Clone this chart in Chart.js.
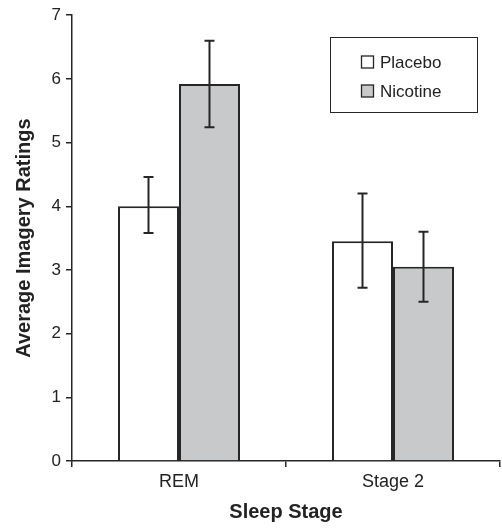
<!DOCTYPE html>
<html>
<head>
<meta charset="utf-8">
<script src="https://cdn.jsdelivr.net/npm/chart.js@4.4.0/dist/chart.umd.min.js"></script>
<style>
  body { margin: 0; background: #fff; }
  #chart { display: block; }
</style>
</head>
<body>
<canvas id="chart" width="502" height="528"></canvas>
<script>
// chart data
const stages = ['REM', 'Stage 2'];
const placebo = [4.0, 3.45];
const nicotine = [5.92, 3.05];
const placeboLow = [3.58, 2.72];
const placeboHigh = [4.46, 4.2];
const nicotineLow = [5.24, 2.5];
const nicotineHigh = [6.6, 3.6];
const yTicks = [0, 1, 2, 3, 4, 5, 6, 7];

const ink = '#262626';
const font = 'Liberation Sans, Arial, sans-serif';

// draws error bars on top of the bars
const errorBars = {
    id: 'errorBars',
    afterDatasetsDraw(chart) {
        const ctx = chart.ctx;
        const y = chart.scales.y;
        chart.data.datasets.forEach((ds, i) => {
            const meta = chart.getDatasetMeta(i);
            meta.data.forEach((bar, j) => {
                const top = y.getPixelForValue(ds.errHigh[j]);
                const bottom = y.getPixelForValue(ds.errLow[j]);
                ctx.save();
                ctx.strokeStyle = ink;
                ctx.lineWidth = 2;
                ctx.beginPath();
                ctx.moveTo(bar.x, top);
                ctx.lineTo(bar.x, bottom);
                ctx.moveTo(bar.x - 5, top);
                ctx.lineTo(bar.x + 5, top);
                ctx.moveTo(bar.x - 5, bottom);
                ctx.lineTo(bar.x + 5, bottom);
                ctx.stroke();
                ctx.restore();
            });
        });
    }
};

// boxed legend in the upper right corner
const boxLegend = {
    id: 'boxLegend',
    afterDraw(chart) {
        const ctx = chart.ctx;
        ctx.save();
        ctx.strokeStyle = ink;
        ctx.lineWidth = 1;
        ctx.strokeRect(330.5, 37.5, 147, 75);
        ctx.font = '17px ' + font;
        ctx.textBaseline = 'middle';
        chart.data.datasets.forEach((ds, i) => {
            const cy = 62 + i * 29;
            ctx.fillStyle = ds.backgroundColor;
            ctx.fillRect(361.5, cy - 6, 12, 12);
            ctx.strokeStyle = ink;
            ctx.lineWidth = 1.3;
            ctx.strokeRect(361.5, cy - 6, 12, 12);
            ctx.fillStyle = '#222';
            ctx.fillText(ds.label, 380, cy + 1);
        });
        ctx.restore();
    }
};

const ctx = document.getElementById('chart').getContext('2d');
new Chart(ctx, {
    type: 'bar',
    data: {
        labels: stages,
        datasets: [{
            label: 'Placebo',
            data: placebo,
            errLow: placeboLow,
            errHigh: placeboHigh,
            backgroundColor: '#ffffff',
            borderColor: ink,
            borderWidth: 2,
            categoryPercentage: 0.57,
            barPercentage: 1.0
        }, {
            label: 'Nicotine',
            data: nicotine,
            errLow: nicotineLow,
            errHigh: nicotineHigh,
            backgroundColor: '#c8c9cb',
            borderColor: ink,
            borderWidth: 2,
            categoryPercentage: 0.57,
            barPercentage: 1.0
        }]
    },
    options: {
        responsive: false,
        animation: false,
        layout: { padding: { top: 12, right: 2, left: 0, bottom: 0 } },
        plugins: {
            legend: { display: false },
            tooltip: { enabled: false }
        },
        scales: {
            x: {
                grid: { drawOnChartArea: false, tickLength: 6, color: ink, lineWidth: 1.5, offset: true },
                border: { display: true, color: ink, width: 1.5 },
                ticks: { color: '#222', font: { family: font, size: 18 }, padding: 4 },
                title: { display: true, text: 'Sleep Stage', color: '#222', font: { family: font, size: 20, weight: 'bold' }, padding: { top: 4, bottom: 4 } },
                afterFit(scale) { scale.height = 67; }
            },
            y: {
                min: 0,
                max: 7,
                afterBuildTicks(scale) { scale.ticks = yTicks.map(v => ({ value: v })); },
                grid: { drawOnChartArea: false, tickLength: 6, color: ink, lineWidth: 1.5 },
                border: { display: true, color: ink, width: 1.5 },
                ticks: { color: '#222', font: { family: font, size: 17 }, padding: 5 },
                title: { display: true, text: 'Average Imagery Ratings', color: '#222', font: { family: font, size: 20, weight: 'bold' }, padding: { top: 12, bottom: 4 } },
                afterFit(scale) { scale.width = 72; }
            }
        }
    },
    plugins: [errorBars, boxLegend]
});
</script>
</body>
</html>
